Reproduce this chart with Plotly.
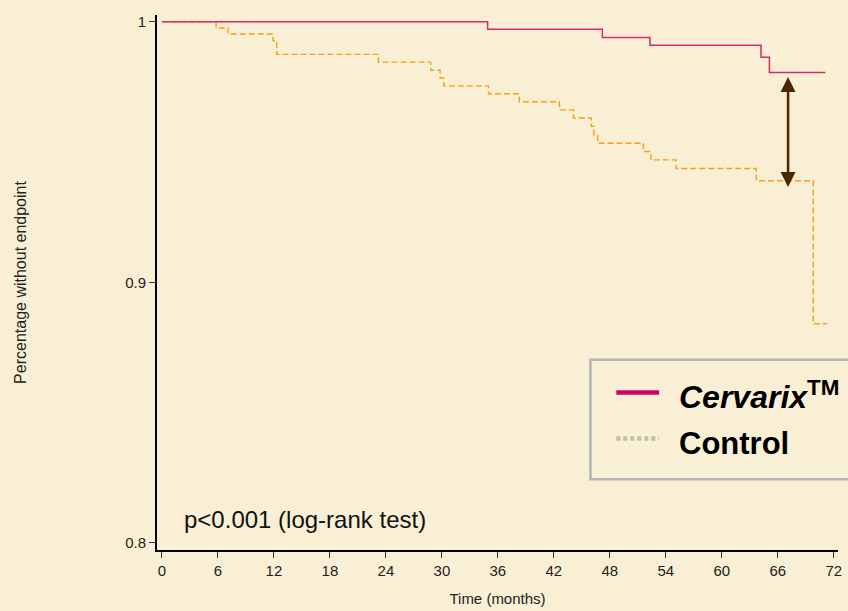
import plotly.graph_objects as go

# ---- data ----
cervarix_time = [0, 34.9, 47.2, 52.3, 64.2, 65.1, 71.1]
cervarix_surv = [1.0, 0.9971, 0.9940, 0.9910, 0.9864, 0.9805, 0.9805]

control_time = [0, 5.8, 7.1, 11.9, 12.3, 23.2, 28.8, 29.8, 30.2, 35.0, 38.3, 42.6,
                44.1, 46.0, 46.3, 46.7, 51.6, 52.4, 55.1, 63.7, 69.8, 71.3]
control_surv = [1.0, 0.9976, 0.9953, 0.9927, 0.9875, 0.9845, 0.9814, 0.9784, 0.9754,
                0.9724, 0.9693, 0.9662, 0.9631, 0.9599, 0.9566, 0.9534, 0.9502, 0.9470,
                0.9437, 0.9390, 0.8841, 0.8841]

x_ticks = [0, 6, 12, 18, 24, 30, 36, 42, 48, 54, 60, 66, 72]
y_ticks = [0.8, 0.9, 1.0]
y_tick_text = ["0.8", "0.9", "1"]

arrow_time = 67.1
arrow_top = 0.9794
arrow_bottom = 0.9366

series_names = ["<b><i>Cervarix</i><sup>TM</sup></b>", "<b>Control</b>"]
p_text = "p<0.001 (log-rank test)"

# ---- layout geometry ----
W, H = 848, 611
ML, MR, MT, MB = 157, 6, 15, 59
PW, PH = W - ML - MR, H - MT - MB
BG = "#f9efd4"
FONT = "Liberation Sans, Arial, sans-serif"


def px_x(p):
    return (p - ML) / PW


def px_y(p):
    return 1 - (p - MT) / PH


fig = go.Figure()
fig.add_trace(go.Scatter(x=control_time, y=control_surv, mode="lines",
                         line=dict(shape="hv", color="#f5a01a", width=1.4, dash="6px,3px"),
                         showlegend=False, hoverinfo="skip"))
fig.add_trace(go.Scatter(x=cervarix_time, y=cervarix_surv, mode="lines",
                         line=dict(shape="hv", color="#d42a6e", width=1.5),
                         showlegend=False, hoverinfo="skip"))

# double-headed arrow
fig.add_annotation(x=arrow_time, y=arrow_bottom, ax=arrow_time, ay=arrow_top,
                   xref="x", yref="y", axref="x", ayref="y", text="",
                   showarrow=True, arrowside="end+start", arrowhead=2, startarrowhead=2,
                   arrowsize=1.2, startarrowsize=1.2, arrowwidth=2.5, arrowcolor="#4a2800")

# p-value text
fig.add_annotation(x=px_x(182), y=px_y(521), xref="paper", yref="paper",
                   text=p_text, showarrow=False, xanchor="left", yanchor="middle",
                   font=dict(family=FONT, size=24, color="#111111"))

# manual legend
fig.add_shape(type="rect", xref="paper", yref="paper",
              x0=px_x(593), x1=px_x(870), y0=px_y(361), y1=px_y(481),
              line=dict(color="#b3b3b3", width=2.5), fillcolor=BG, layer="above")
fig.add_shape(type="line", xref="paper", yref="paper",
              x0=px_x(619), x1=px_x(662), y0=px_y(394), y1=px_y(394),
              line=dict(color="#cc0066", width=4.5))
fig.add_shape(type="line", xref="paper", yref="paper",
              x0=px_x(619), x1=px_x(662), y0=px_y(440), y1=px_y(440),
              line=dict(color="#bcc0ad", width=4.5, dash="4px,3px"))
fig.add_annotation(x=px_x(680), y=px_y(396), xref="paper", yref="paper",
                   text=series_names[0], showarrow=False, xanchor="left", yanchor="middle",
                   font=dict(family=FONT, size=32, color="#000000"))
fig.add_annotation(x=px_x(680), y=px_y(445), xref="paper", yref="paper",
                   text=series_names[1], showarrow=False, xanchor="left", yanchor="middle",
                   font=dict(family=FONT, size=31, color="#000000"))

fig.update_layout(
    width=W, height=H,
    margin=dict(l=ML, r=MR, t=MT, b=MB, pad=0),
    paper_bgcolor=BG, plot_bgcolor=BG,
    font=dict(family=FONT, color="#222222", size=15),
    showlegend=False,
    xaxis=dict(range=[-0.53, 72.45], tickmode="array", tickvals=x_ticks,
               showgrid=False, zeroline=False, showline=True, linecolor="#000000",
               linewidth=2, ticks="outside", ticklen=6, tickwidth=1, tickcolor="#333333",
               tickfont=dict(size=15),
               title=dict(text="Time (months)", font=dict(size=15), standoff=15)),
    yaxis=dict(range=[0.7973, 1.0026], tickmode="array", tickvals=y_ticks,
               ticktext=y_tick_text,
               showgrid=False, zeroline=False, showline=True, linecolor="#000000",
               linewidth=2, ticks="outside", ticklen=6, tickwidth=1, tickcolor="#333333",
               tickfont=dict(size=15),
               title=dict(text="Percentage without endpoint", font=dict(size=16), standoff=95)),
)

fig.write_html("out.html")
